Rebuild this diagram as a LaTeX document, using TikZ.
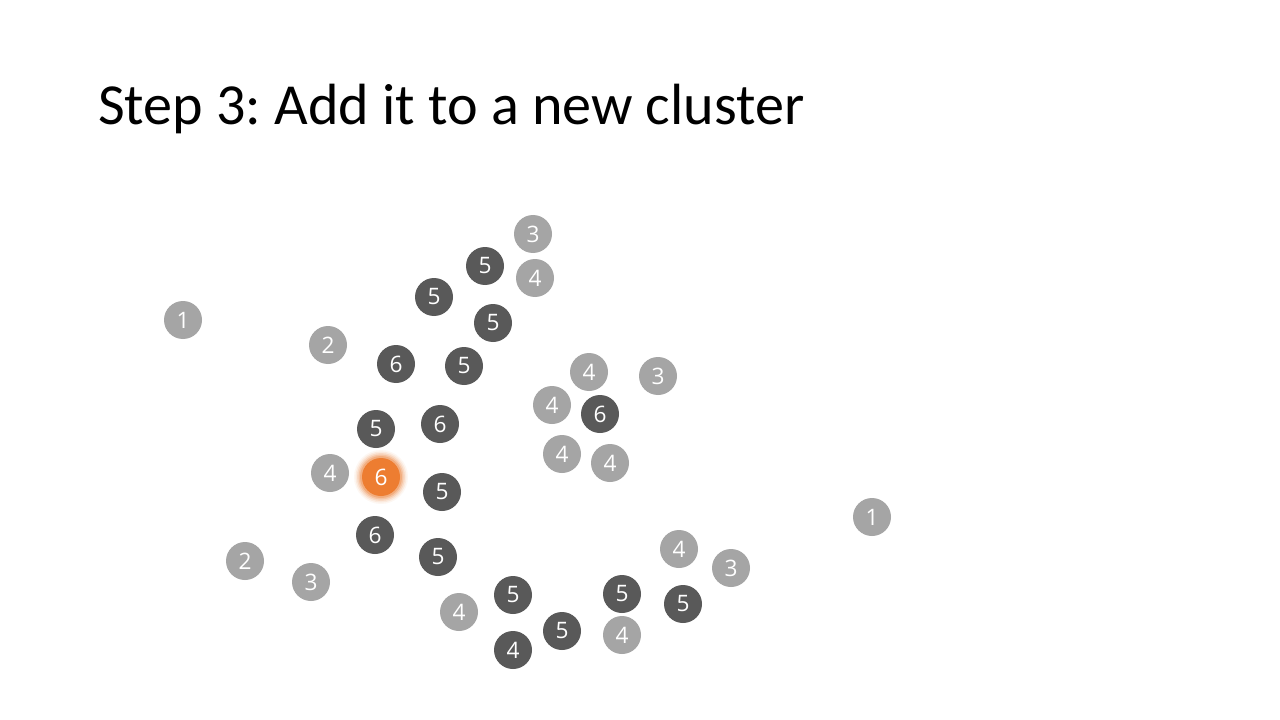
\documentclass[tikz,border=0pt]{standalone}
\usepackage{fontspec}
\setmainfont{Carlito}
\newfontfamily\numfont{Open Sans}
\definecolor{darkdot}{HTML}{595959}
\definecolor{lightdot}{HTML}{A5A5A5}
\definecolor{orangedot}{HTML}{ED7D31}
\frenchspacing
\begin{document}
\begin{tikzpicture}[x=0.75pt,y=-0.75pt,
  dot/.style={circle,minimum size=28.5pt,inner sep=0pt,text=white,font=\numfont\fontsize{17}{19}\selectfont},
  dk/.style={dot,fill=darkdot},
  lt/.style={dot,fill=lightdot},
  og/.style={dot,fill=orangedot},
  title/.style={anchor=base west,inner sep=0pt,font=\fontsize{43.6}{50}\selectfont}]
\useasboundingbox[fill=white] (0,0) rectangle (1280,720);
\node[title] (t) at (98,125) {Step 3: Add it to a new cluster};
% glow of the orange dot
\foreach \r/\o in {27/0.06,25.5/0.10,24/0.15,22.5/0.22,21/0.32}
  \fill[orangedot,opacity=\o] (381,477) circle (\r);
\node[lt] (n1) at (183,320) {1};
\node[lt] (n2) at (328,345) {2};
\node[lt] (n3) at (533,234) {3};
\node[dk] (n4) at (485,266) {5};
\node[lt] (n5) at (535,278) {4};
\node[dk] (n6) at (434,297) {5};
\node[dk] (n7) at (493,323) {5};
\node[dk] (n8) at (396,364) {6};
\node[dk] (n9) at (464,366) {5};
\node[lt] (n10) at (589,372) {4};
\node[lt] (n11) at (658,376) {3};
\node[lt] (n12) at (552,405) {4};
\node[dk] (n13) at (600,414) {6};
\node[dk] (n14) at (376,429) {5};
\node[dk] (n15) at (440,424) {6};
\node[lt] (n16) at (562,454) {4};
\node[lt] (n17) at (610,463) {4};
\node[lt] (n18) at (330,473) {4};
\node[og] (n19) at (381,477) {6};
\node[dk] (n20) at (442,492) {5};
\node[lt] (n21) at (872,517) {1};
\node[dk] (n22) at (375,535) {6};
\node[dk] (n23) at (438,557) {5};
\node[lt] (n24) at (245,561) {2};
\node[lt] (n25) at (311,582) {3};
\node[lt] (n26) at (679,549) {4};
\node[lt] (n27) at (731,568) {3};
\node[dk] (n28) at (513,595) {5};
\node[dk] (n29) at (622,594) {5};
\node[dk] (n30) at (683,604) {5};
\node[lt] (n31) at (459,612) {4};
\node[dk] (n32) at (562,631) {5};
\node[lt] (n33) at (622,635) {4};
\node[dk] (n34) at (513,650) {4};
\end{tikzpicture}
\end{document}
